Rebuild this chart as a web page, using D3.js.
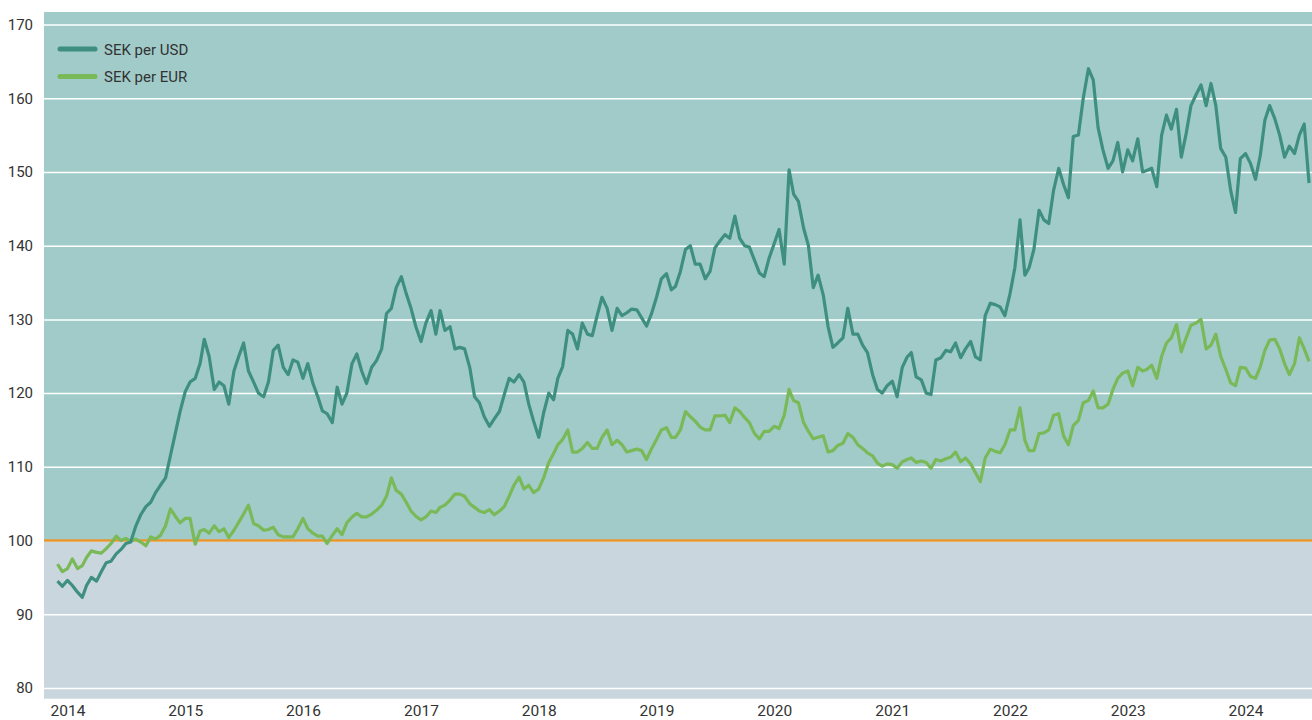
<!DOCTYPE html>
<html>
	<head>
		<meta charset="utf-8">
		<style type="text/css">
			body { margin: 0; background: #fff; font-family: Roboto, sans-serif; }
			text { fill: #333; }
		</style>
		<title>SEK per USD / SEK per EUR</title>
	</head>
	<body>
		<svg id="chart" width="1312" height="720"></svg>

		<script src="https://cdn.jsdelivr.net/npm/d3@7"></script>
		<script>

			// series names and axis ticks
			var seriesNames = ['SEK per USD', 'SEK per EUR'];
			var yTicks = [80, 90, 100, 110, 120, 130, 140, 150, 160, 170];
			var xTicks = [2014, 2015, 2016, 2017, 2018, 2019, 2020, 2021, 2022, 2023, 2024];

			// index values, one point on the 1st and 16th of every month, Dec 2013 - Jul 2024
			var usd = [
				94.5, 93.8,
				// 2014
				94.6, 93.9, 93.0, 92.3, 93.9, 95.0, 94.5, 95.8, 97.0, 97.2, 98.2, 98.8,
				99.6, 99.8, 102.0, 103.5, 104.6, 105.2, 106.5, 107.5, 108.5, 111.5, 114.5, 117.5,
				// 2015
				120.2, 121.5, 122.0, 124.0, 127.3, 125.0, 120.5, 121.5, 121.0, 118.5, 123.0, 125.0,
				126.8, 123.0, 121.5, 120.0, 119.5, 121.5, 125.8, 126.5, 123.5, 122.5, 124.5, 124.2,
				// 2016
				122.0, 124.0, 121.3, 119.5, 117.6, 117.2, 116.0, 120.8, 118.5, 120.0, 124.0, 125.3,
				123.0, 121.3, 123.5, 124.4, 126.0, 130.8, 131.5, 134.3, 135.8, 133.5, 131.5, 129.0,
				// 2017
				127.0, 129.5, 131.2, 128.0, 131.2, 128.5, 129.0, 126.0, 126.2, 126.0, 123.5, 119.5,
				118.7, 116.8, 115.5, 116.5, 117.5, 119.8, 122.0, 121.5, 122.5, 121.5, 118.5, 116.2,
				// 2018
				114.0, 117.3, 120.0, 119.1, 122.0, 123.6, 128.5, 128.0, 126.0, 129.5, 128.0, 127.8,
				130.5, 133.0, 131.5, 128.5, 131.5, 130.5, 130.9, 131.4, 131.3, 130.2, 129.1, 130.7,
				// 2019
				133.0, 135.5, 136.2, 134.0, 134.5, 136.5, 139.5, 140.0, 137.5, 137.5, 135.5, 136.5,
				139.7, 140.6, 141.5, 141.0, 144.0, 141.0, 140.0, 139.8, 138.0, 136.3, 135.8, 138.3,
				// 2020
				140.3, 142.2, 137.5, 150.3, 147.0, 146.0, 142.4, 140.0, 134.3, 136.0, 133.3, 129.0,
				126.2, 126.8, 127.5, 131.5, 128.0, 128.0, 126.5, 125.5, 122.5, 120.5, 120.0, 121.0,
				// 2021
				121.6, 119.5, 123.5, 124.9, 125.5, 122.2, 121.8, 120.0, 119.8, 124.5, 124.8, 125.8,
				125.6, 126.8, 124.8, 126.0, 127.0, 124.9, 124.5, 130.5, 132.2, 132.0, 131.7, 130.5,
				// 2022
				133.5, 137.0, 143.5, 136.0, 137.0, 139.5, 144.8, 143.5, 143.0, 147.5, 150.5, 148.3,
				146.5, 154.8, 155.0, 160.0, 164.0, 162.5, 156.0, 153.0, 150.5, 151.5, 154.0, 150.0,
				// 2023
				153.0, 151.5, 154.5, 150.0, 150.2, 150.5, 148.0, 155.0, 157.7, 155.8, 158.5, 152.0,
				155.2, 159.0, 160.5, 161.8, 159.0, 162.0, 159.0, 153.2, 152.0, 147.5, 144.5, 151.8,
				// 2024
				152.5, 151.2, 149.0, 152.3, 157.0, 159.0, 157.2, 155.0, 152.0, 153.5, 152.5, 155.0,
				156.5, 148.5
			];

			var eur = [
				96.8, 95.8,
				// 2014
				96.2, 97.5, 96.2, 96.6, 97.7, 98.6, 98.4, 98.3, 98.9, 99.6, 100.6, 100.0,
				100.3, 99.9, 100.2, 99.8, 99.3, 100.5, 100.2, 100.7, 102.0, 104.3, 103.3, 102.4,
				// 2015
				103.0, 103.0, 99.5, 101.3, 101.5, 101.0, 102.0, 101.2, 101.6, 100.4, 101.4, 102.5,
				103.6, 104.8, 102.3, 102.0, 101.4, 101.5, 101.8, 100.8, 100.5, 100.5, 100.5, 101.6,
				// 2016
				103.0, 101.6, 101.0, 100.6, 100.6, 99.6, 100.7, 101.6, 100.8, 102.4, 103.2, 103.7,
				103.2, 103.2, 103.6, 104.1, 104.8, 106.0, 108.5, 106.8, 106.3, 105.2, 104.0, 103.3,
				// 2017
				102.8, 103.2, 104.0, 103.8, 104.5, 104.8, 105.5, 106.3, 106.3, 106.0, 105.0, 104.5,
				104.0, 103.8, 104.2, 103.5, 104.0, 104.6, 106.0, 107.5, 108.6, 107.0, 107.5, 106.5,
				// 2018
				107.0, 108.5, 110.6, 111.8, 113.0, 113.7, 115.0, 112.0, 112.0, 112.5, 113.3, 112.5,
				112.5, 114.0, 115.0, 113.0, 113.6, 113.0, 112.0, 112.2, 112.4, 112.2, 111.0, 112.4,
				// 2019
				113.7, 115.0, 115.3, 114.0, 114.0, 115.0, 117.5, 116.8, 116.2, 115.4, 115.0, 115.0,
				116.9, 116.9, 117.0, 116.0, 118.0, 117.5, 116.7, 116.0, 114.5, 113.8, 114.8, 114.8,
				// 2020
				115.5, 115.2, 117.0, 120.5, 119.0, 118.7, 116.0, 114.8, 113.8, 114.0, 114.2, 112.0,
				112.2, 112.9, 113.2, 114.5, 114.0, 113.0, 112.5, 111.9, 111.5, 110.5, 110.1, 110.4,
				// 2021
				110.3, 109.8, 110.7, 111.0, 111.2, 110.6, 110.8, 110.6, 109.8, 111.0, 110.8, 111.1,
				111.3, 112.0, 110.7, 111.2, 110.4, 109.2, 108.0, 111.2, 112.4, 112.1, 111.9, 113.0,
				// 2022
				115.0, 115.0, 118.0, 113.6, 112.2, 112.2, 114.5, 114.6, 115.0, 117.0, 117.2, 114.2,
				113.0, 115.6, 116.3, 118.7, 119.0, 120.3, 118.0, 118.0, 118.5, 120.5, 122.0, 122.7,
				// 2023
				123.0, 121.0, 123.5, 123.0, 123.2, 123.8, 122.0, 125.0, 126.8, 127.5, 129.3, 125.6,
				127.5, 129.2, 129.5, 130.0, 126.0, 126.5, 128.0, 125.0, 123.2, 121.4, 121.0, 123.5,
				// 2024
				123.4, 122.3, 122.0, 123.6, 125.8, 127.2, 127.3, 126.0, 124.0, 122.5, 124.0, 127.5,
				126.0, 124.3
			];

			var colors = ['#3e8f80', '#79b957'];

			// plot area
			var plot = {left: 44, right: 1312, top: 12, bottom: 698.7};

			// 1st and 16th of each month starting Dec 2013
			var dates = usd.map(function(d, i) {
				return new Date(2013, 11 + Math.floor(i / 2), i % 2 ? 16 : 1);
			});

			var series = [usd, eur].map(function(values, k) {
				return {
					name: seriesNames[k],
					color: colors[k],
					values: values.map(function(v, i) { return {date: dates[i], value: v}; })
				};
			});

			var x = d3.scaleTime()
				.domain([new Date(2014, 0, 1), new Date(2024, 0, 1)])
				.range([67.5, 1245.5]);
			var y = d3.scaleLinear()
				.domain([80, 170])
				.range([688, 24.5]);

			var svg = d3.select('#chart');

			svg.append('defs').append('clipPath')
				.attr('id', 'clip')
				.append('rect')
				.attr('x', plot.left)
				.attr('y', plot.top)
				.attr('width', plot.right - plot.left)
				.attr('height', plot.bottom - plot.top);

			// background bands, above and below 100
			svg.append('rect')
				.attr('x', plot.left)
				.attr('y', plot.top)
				.attr('width', plot.right - plot.left)
				.attr('height', y(100) - plot.top)
				.attr('fill', '#a0cbc9');
			svg.append('rect')
				.attr('x', plot.left)
				.attr('y', y(100))
				.attr('width', plot.right - plot.left)
				.attr('height', plot.bottom - y(100))
				.attr('fill', '#c9d6de');

			// y axis with white grid lines
			var yAxis = d3.axisLeft(y)
				.tickValues(yTicks)
				.tickSize(-(plot.right - plot.left))
				.tickPadding(11)
				.tickFormat(d3.format('d'));

			var gy = svg.append('g')
				.attr('transform', 'translate(' + plot.left + ',0)')
				.call(yAxis);
			gy.select('.domain').remove();
			gy.selectAll('.tick line')
				.attr('stroke', '#fff')
				.attr('stroke-width', 1.5);
			gy.selectAll('.tick text')
				.style('font-family', 'Roboto, sans-serif')
				.style('font-size', '15px')
				.attr('fill', '#333');

			// orange reference line at 100
			svg.append('line')
				.attr('x1', plot.left)
				.attr('x2', plot.right)
				.attr('y1', y(100))
				.attr('y2', y(100))
				.attr('stroke', '#e8962e')
				.attr('stroke-width', 2.5);

			// x axis, year labels only
			var xAxis = d3.axisBottom(x)
				.tickValues(xTicks.map(function(yr) { return new Date(yr, 0, 1); }))
				.tickSize(0)
				.tickPadding(6)
				.tickFormat(d3.timeFormat('%Y'));

			var gx = svg.append('g')
				.attr('transform', 'translate(0,' + plot.bottom + ')')
				.call(xAxis);
			gx.select('.domain').remove();
			gx.selectAll('.tick text')
				.style('font-family', 'Roboto, sans-serif')
				.style('font-size', '15.5px')
				.attr('fill', '#333');

			// the two lines, EUR under USD
			var line = d3.line()
				.x(function(d) { return x(d.date); })
				.y(function(d) { return y(d.value); });

			svg.append('g')
				.attr('clip-path', 'url(#clip)')
				.selectAll('path')
				.data(series.slice().reverse())
				.enter().append('path')
				.attr('d', function(d) { return line(d.values); })
				.attr('fill', 'none')
				.attr('stroke', function(d) { return d.color; })
				.attr('stroke-width', 3.2)
				.attr('stroke-linejoin', 'round');

			// legend
			var legend = svg.append('g')
				.selectAll('g')
				.data(series)
				.enter().append('g')
				.attr('transform', function(d, i) { return 'translate(60,' + (49 + i * 27.5) + ')'; });

			legend.append('line')
				.attr('x1', 0)
				.attr('x2', 35)
				.attr('stroke', function(d) { return d.color; })
				.attr('stroke-width', 5)
				.attr('stroke-linecap', 'round');

			legend.append('text')
				.attr('x', 44)
				.attr('y', 5.5)
				.style('font-size', '15px')
				.text(function(d) { return d.name; });

		</script>
	</body>
</html>
